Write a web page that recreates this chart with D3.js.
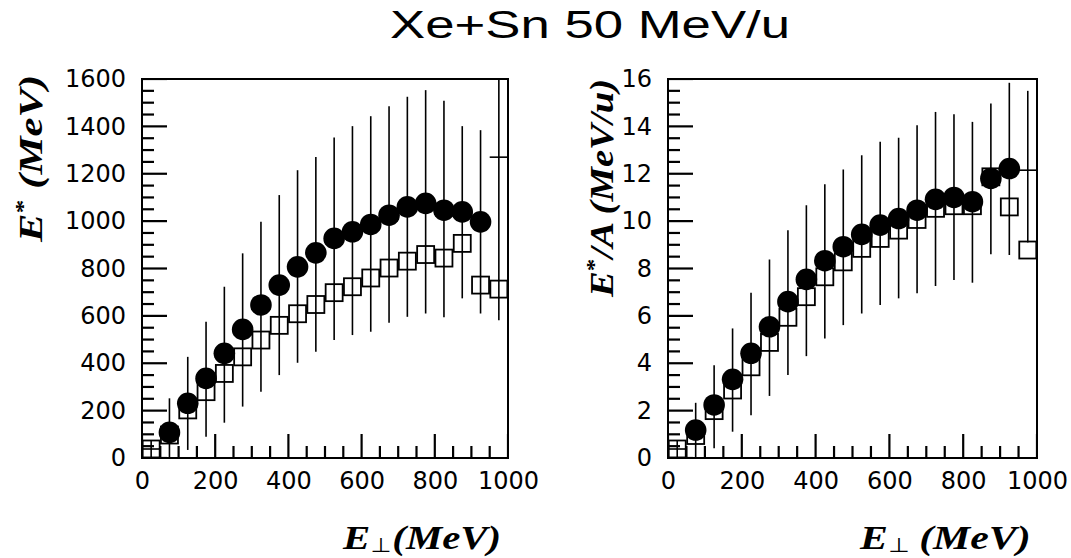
<!DOCTYPE html>
<html><head><meta charset="utf-8">
<script src="https://cdn.jsdelivr.net/npm/d3@7"></script>
<style>body{margin:0;background:#fff} svg{display:block}</style>
</head><body>
<svg id="c" width="1071" height="558"></svg>
<script>
// ---------------- data ----------------
const binCenters = [25,75,125,175,225,275,325,375,425,475,525,575,625,675,725,775,825,875,925,975];
const markerlessBins = [25, 975];          // filled-series points drawn without a marker
const xTickValues = [0,200,400,600,800,1000];
const leftYTickValues = [0,200,400,600,800,1000,1200,1400,1600];
const rightYTickValues = [0,2,4,6,8,10,12,14,16];

// Left panel: E* (MeV)
const leftCircles = [38,108,231,336,442,543,646,730,807,866,927,955,986,1025,1060,1075,1046,1039,997,1270];
const leftSquares = [38,97,203,280,357,427,498,560,609,648,698,723,760,802,831,859,844,906,730,713];
const leftErrLow  = [0,0,34,90,149,217,280,350,402,449,498,519,533,571,596,610,594,674,610,582];
const leftErrHigh = [76,252,427,575,723,864,997,1110,1215,1271,1353,1401,1443,1485,1525,1553,1508,1401,1384,1960];

// Right panel: E*/A (MeV/u)
const rightCircles = [0.38,1.18,2.24,3.32,4.42,5.54,6.6,7.54,8.33,8.92,9.44,9.83,10.11,10.46,10.92,11.0,10.82,11.8,12.22,12.15];
const rightSquares = [0.38,0.95,2.0,2.87,3.85,4.88,5.94,6.81,7.65,8.28,8.85,9.27,9.62,10.07,10.54,10.65,10.65,11.87,10.6,8.78];
const rightErrLow  = [0,0,0.41,1.11,1.81,2.62,3.5,4.3,5.05,5.61,6.1,6.46,6.74,6.95,7.26,7.51,7.4,8.6,8.57,9.1];
const rightErrHigh = [0.76,2.33,3.92,5.47,6.98,8.38,9.62,10.67,11.56,12.18,12.78,13.35,13.52,14.05,14.61,14.51,14.19,14.97,15.84,15.5];

const titleText = "Xe+Sn 50 MeV/u";

// ---------------- drawing ----------------
const svg = d3.select("#c");
svg.append("rect").attr("width",1071).attr("height",558).attr("fill","#fff");

const binHalf = 25;

function panel(opt){
  const x = d3.scaleLinear().domain([0,1000]).range([opt.x0, opt.x1]);
  const y = d3.scaleLinear().domain([0,opt.ymax]).range([opt.y1, opt.y0]);
  const g = svg.append("g");
  const clipId = "clip"+opt.id;
  svg.append("clipPath").attr("id",clipId).append("rect")
    .attr("x",opt.x0).attr("y",opt.y0).attr("width",opt.x1-opt.x0).attr("height",opt.y1-opt.y0);
  const data = binCenters.map((b,i)=>({b, c:opt.circles[i], s:opt.squares[i], lo:opt.lo[i], hi:opt.hi[i]}));

  const plot = g.append("g").attr("clip-path",`url(#${clipId})`);

  // tick marks (inward), positioned from the scales
  const xMinorVals = d3.range(0,1001,50);
  const yStep = opt.yticks[1]-opt.yticks[0];
  const yMinorVals = d3.range(0,opt.ymax+1e-9,yStep/4);
  const isMajor = v=>Math.abs(v/yStep-Math.round(v/yStep))<1e-6;
  plot.selectAll("line.xt").data(xMinorVals).join("line").attr("class","xt")
    .attr("x1",d=>x(d)).attr("x2",d=>x(d)).attr("y1",opt.y1)
    .attr("y2",d=>opt.y1-(xTickValues.includes(d)?24:12))
    .style("stroke","#000").style("stroke-width","2.2px");
  plot.selectAll("line.yt").data(yMinorVals).join("line").attr("class","yt")
    .attr("y1",d=>y(d)).attr("y2",d=>y(d)).attr("x1",opt.x0)
    .attr("x2",d=>opt.x0+(isMajor(d)?25:12))
    .style("stroke","#000").style("stroke-width","2.2px");

  // vertical error bars
  plot.selectAll("line.err").data(data).join("line").attr("class","err")
    .attr("x1",d=>x(d.b)).attr("x2",d=>x(d.b))
    .attr("y1",d=>y(d.lo)).attr("y2",d=>y(d.hi))
    .style("stroke","#000").style("stroke-width","1.6px");
  // horizontal bars for marker-less points
  plot.selectAll("line.xerr").data(data.filter(d=>markerlessBins.includes(d.b))).join("line").attr("class","xerr")
    .attr("x1",d=>x(d.b-binHalf)).attr("x2",d=>x(d.b+binHalf))
    .attr("y1",d=>y(d.c)).attr("y2",d=>y(d.c))
    .style("stroke","#000").style("stroke-width","1.6px");
  // open squares
  const side = 17;
  plot.selectAll("rect.sq").data(data).join("rect").attr("class","sq")
    .attr("x",d=>x(d.b)-side/2).attr("y",d=>y(d.s)-side/2)
    .attr("width",side).attr("height",side)
    .style("fill","none").style("stroke","#000").style("stroke-width","1.8px");
  // filled circles
  plot.selectAll("circle").data(data.filter(d=>!markerlessBins.includes(d.b))).join("circle")
    .attr("cx",d=>x(d.b)).attr("cy",d=>y(d.c)).attr("r",10.8).style("fill","#000");

  // tick labels via d3 axes (no tick lines)
  const xAx = d3.axisBottom(x).tickValues(xTickValues).tickSize(0).tickPadding(14).tickFormat(d3.format("d"));
  const yAx = d3.axisLeft(y).tickValues(opt.yticks).tickSize(0).tickPadding(16).tickFormat(d3.format("d"));
  const gx = g.append("g").attr("transform",`translate(0,${opt.y1})`).call(xAx);
  const gy = g.append("g").attr("transform",`translate(${opt.x0},0)`).call(yAx);
  [gx,gy].forEach(a=>{
    a.select(".domain").remove();
    a.selectAll(".tick line").remove();
    a.selectAll("text").attr("font-family","'DejaVu Sans', sans-serif").attr("font-size",24).attr("fill","#000");
  });
  // frame
  g.append("rect").attr("x",opt.x0).attr("y",opt.y0).attr("width",opt.x1-opt.x0).attr("height",opt.y1-opt.y0)
    .style("fill","none").style("stroke","#000").style("stroke-width","2px");
}

panel({id:"L", x0:142, x1:508, y0:79, y1:458, ymax:1600, yticks:leftYTickValues,
  circles:leftCircles, squares:leftSquares, lo:leftErrLow, hi:leftErrHigh});
panel({id:"R", x0:668, x1:1037, y0:79, y1:458, ymax:16, yticks:rightYTickValues,
  circles:rightCircles, squares:rightSquares, lo:rightErrLow, hi:rightErrHigh});

// title
svg.append("text").attr("x",390).attr("y",38)
  .attr("font-family","'Liberation Sans', Arial, sans-serif").attr("font-size",38)
  .attr("textLength",400).attr("lengthAdjust","spacingAndGlyphs")
  .attr("fill","#000").text(titleText);

const serif = "'Liberation Serif','Times New Roman',serif";
// x-axis titles
function xTitle(tx, ty, sx, sep){
  const t = svg.append("text").attr("transform",`translate(${tx},${ty}) scale(${sx},1)`)
    .attr("font-family",serif).attr("font-size",34).attr("font-weight","bold").attr("font-style","italic").attr("fill","#000");
  t.append("tspan").text("E");
  t.append("tspan").attr("font-family","'DejaVu Sans',sans-serif").attr("font-style","normal").attr("font-weight","normal")
    .attr("font-size",20).attr("dy",3).attr("dx",0).text("\u22A5");
  t.append("tspan").attr("dy",-3).attr("dx",sep).text("(MeV)");
}
xTitle(343, 549, 1.2, 1);
xTitle(860, 549, 1.23, 8);

// y-axis titles
function yTitle(tx, ty, sx, rest){
  const t = svg.append("text").attr("transform",`translate(${tx},${ty}) rotate(-90) scale(${sx},1)`)
    .attr("font-family",serif).attr("font-size",34).attr("font-weight","bold").attr("font-style","italic").attr("fill","#000");
  t.append("tspan").text("E");
  t.append("tspan").attr("font-size",22).attr("dy",-12).attr("font-style","normal").text("*");
  t.append("tspan").attr("dy",12).text(rest);
}
yTitle(42, 242, 1.26, " (MeV)");
yTitle(613, 297, 1.14, "/A (MeV/u)");
</script>
</body></html>
